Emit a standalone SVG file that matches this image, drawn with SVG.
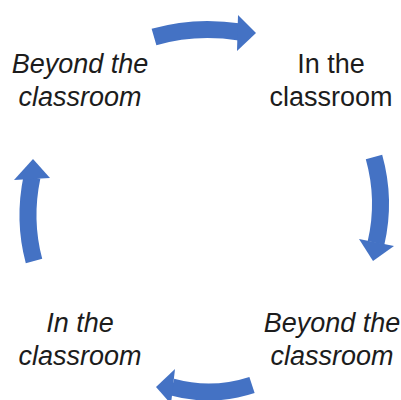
<svg xmlns="http://www.w3.org/2000/svg" width="401" height="400" viewBox="0 0 401 400">
<style>
.lbl{font-family:"Liberation Sans",Arial,sans-serif;font-size:27px;fill:#1c1c1c;text-anchor:middle}
.it{font-style:italic}
.body{fill:none;stroke:#4472C4;stroke-width:17;stroke-linecap:butt}
.head{fill:#4472C4}
</style>
<rect width="401" height="400" fill="#ffffff"/>
<g id="node-beyond-top-left">
<text class="lbl it" x="80" y="73">Beyond the</text>
<text class="lbl it" x="80" y="106">classroom</text>
</g>
<g id="node-in-top-right">
<text class="lbl" x="331" y="73">In the</text>
<text class="lbl" x="331" y="106">classroom</text>
</g>
<g id="node-beyond-bottom-right">
<text class="lbl it" x="332" y="332">Beyond the</text>
<text class="lbl it" x="332" y="365">classroom</text>
</g>
<g id="node-in-bottom-left">
<text class="lbl it" x="80" y="332">In the</text>
<text class="lbl it" x="80" y="365">classroom</text>
</g>
<g id="connectors">
<path class="body" d="M154,37 Q195,25 240,32"/>
<polygon class="head" points="238,15 256,33 237,51"/>
<path class="body" d="M374,157 Q386,200 376,243"/>
<polygon class="head" points="359,239 373,261 394,246"/>
<path class="body" d="M34,261 Q23,220 32,177"/>
<polygon class="head" points="14,180 33,159 50,178"/>
<path class="body" d="M252,385 Q212,398 172,387"/>
<polygon class="head" points="175,369 156,387 171,404"/>
</g>
</svg>
